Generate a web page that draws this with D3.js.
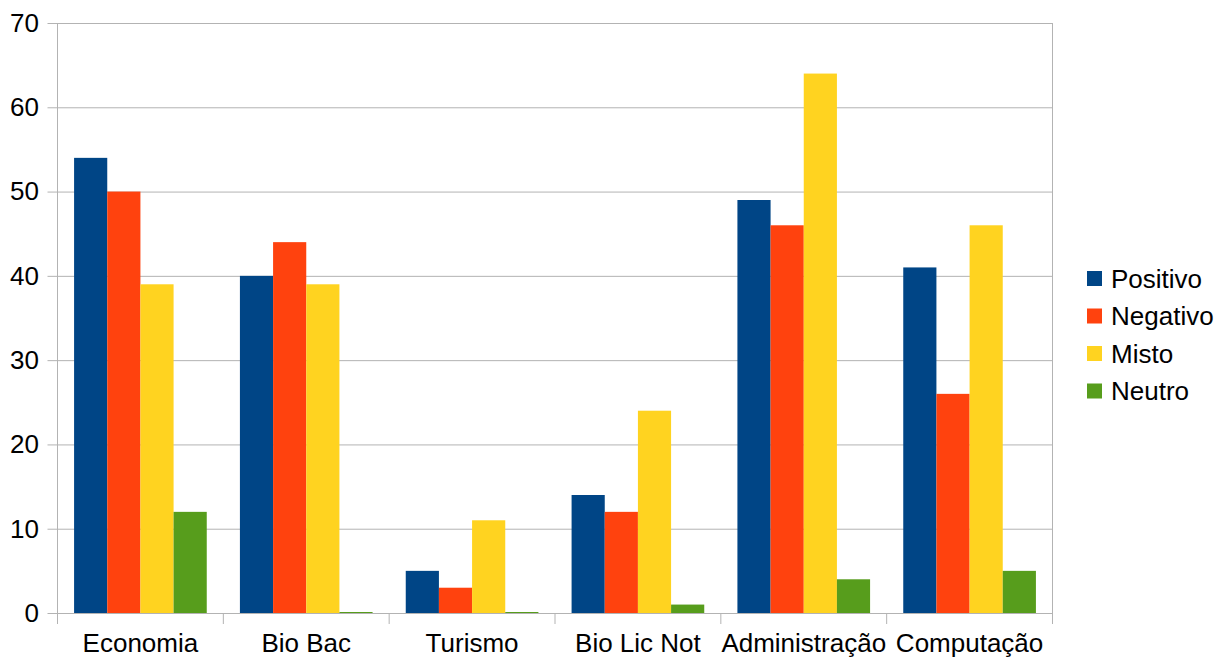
<!DOCTYPE html>
<html>
<head>
<meta charset="utf-8">
<script src="https://cdn.jsdelivr.net/npm/d3@7"></script>
<style>
  html, body { margin: 0; padding: 0; background: #fff; }
  svg { display: block; font-family: "Liberation Sans", Arial, sans-serif; }
</style>
</head>
<body>
<svg id="chart" width="1214" height="658"></svg>
<script>
// Courses along the x axis
const categories = ["Economia", "Bio Bac", "Turismo", "Bio Lic Not", "Administração", "Computação"];
// Series names and colours
const seriesNames = ["Positivo", "Negativo", "Misto", "Neutro"];
const seriesColors = ["#004586", "#ff420e", "#ffd320", "#579d1c"];
// Counts per course for each series
const positivo = [54, 40, 5, 14, 49, 41];
const negativo = [50, 44, 3, 12, 46, 26];
const misto    = [39, 39, 11, 24, 64, 46];
const neutro   = [12, 0, 0, 1, 4, 5];
const yTicks = [0, 10, 20, 30, 40, 50, 60, 70];

const seriesValues = [positivo, negativo, misto, neutro];
const fontSize = 26;

const svg = d3.select("#chart");
const plotLeft = 57.5, plotRight = 1052.5, plotTop = 23, plotBottom = 613;

const x0 = d3.scaleBand().domain(categories).range([plotLeft, plotRight]).paddingInner(0).paddingOuter(0);
const x1 = d3.scaleBand().domain(seriesNames).range([0, x0.bandwidth()]).paddingOuter(0.5).paddingInner(0);
const y = d3.scaleLinear().domain([0, 70]).range([plotBottom, plotTop]);

// Horizontal gridlines with short outer ticks
const yAxis = svg.append("g")
  .attr("transform", `translate(${plotLeft},0)`)
  .call(d3.axisLeft(y).tickValues(yTicks).tickSize(-(plotRight - plotLeft)).tickSizeOuter(0).tickPadding(18.5));
yAxis.select(".domain").remove();
yAxis.selectAll(".tick line")
  .attr("stroke", "#b3b3b3")
  .attr("x1", -10)
  .attr("x2", plotRight - plotLeft);
yAxis.selectAll(".tick text")
  .attr("font-size", fontSize)
  .attr("fill", "#000")
  .attr("font-family", "Liberation Sans, Arial, sans-serif");

// Left and right frame lines of the plot area
svg.append("line").attr("x1", plotLeft).attr("x2", plotLeft).attr("y1", plotTop).attr("y2", plotBottom)
  .attr("stroke", "#b3b3b3");
svg.append("line").attr("x1", plotRight).attr("x2", plotRight).attr("y1", plotTop).attr("y2", plotBottom)
  .attr("stroke", "#b3b3b3");

// Bars
const groups = svg.append("g").selectAll("g")
  .data(categories)
  .join("g")
  .attr("transform", d => `translate(${x0(d)},0)`);

groups.selectAll("rect")
  .data((c, i) => seriesNames.map((s, k) => ({ s, k, v: seriesValues[k][i] })))
  .join("rect")
  .attr("x", d => x1(d.s))
  .attr("width", x1.bandwidth())
  .attr("y", d => y(d.v) - (d.v === 0 ? 1 : 0))
  .attr("height", d => y(0) - y(d.v) + (d.v === 0 ? 1 : 0))
  .attr("fill", d => seriesColors[d.k]);

// Category axis with boundary ticks
const boundaries = categories.map(c => x0(c)).concat([plotRight]);
svg.append("line").attr("x1", plotLeft).attr("x2", plotRight).attr("y1", plotBottom + 0.5).attr("y2", plotBottom + 0.5)
  .attr("stroke", "#b3b3b3");
svg.append("g").selectAll("line")
  .data(boundaries)
  .join("line")
  .attr("x1", d => d).attr("x2", d => d)
  .attr("y1", plotBottom).attr("y2", plotBottom + 11)
  .attr("stroke", "#b3b3b3");
svg.append("g").selectAll("text")
  .data(categories)
  .join("text")
  .attr("x", d => x0(d) + x0.bandwidth() / 2)
  .attr("y", 652)
  .attr("text-anchor", "middle")
  .attr("font-size", fontSize)
  .attr("fill", "#000")
  .text(d => d);

// Legend
const legend = svg.append("g").selectAll("g")
  .data(seriesNames)
  .join("g")
  .attr("transform", (d, i) => `translate(1087,${278.5 + i * 37.5})`);
legend.append("rect")
  .attr("x", 0).attr("y", -7.5).attr("width", 15).attr("height", 15)
  .attr("fill", (d, i) => seriesColors[i]);
legend.append("text")
  .attr("x", 24).attr("y", 9)
  .attr("font-size", fontSize)
  .attr("fill", "#000")
  .text(d => d);
</script>
</body>
</html>
